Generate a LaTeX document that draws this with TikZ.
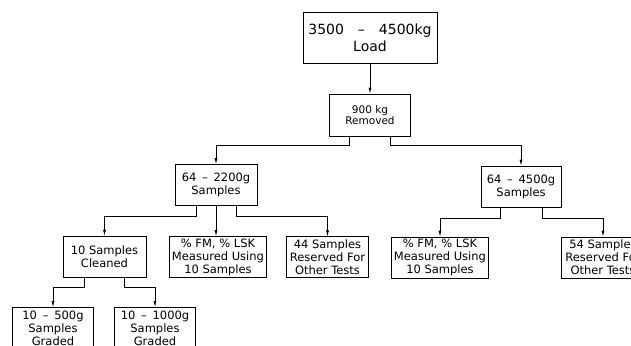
\documentclass[tikz,border=0pt]{standalone}
\usepackage{fontspec}
\setmainfont{DejaVu Sans}
\usetikzlibrary{arrows.meta}
\tikzset{
  box/.style={draw, line width=0.7pt, align=center, inner sep=0pt, minimum height=41pt, font=\fontsize{11.5}{13}\selectfont},
  arr/.style={-{Latex[length=6pt,width=3pt]}, line width=0.7pt}
}
\begin{document}
\begin{tikzpicture}[x=1pt,y=-1pt]
\useasboundingbox (0,0) rectangle (631,345);
\node[box, minimum width=134pt, minimum height=51pt, font=\fontsize{14}{17}\selectfont] (load) at (370,38) {3500\quad--\quad4500kg\\Load};
\node[box, minimum width=81pt, minimum height=42pt, font=\fontsize{10.5}{11.5}\selectfont] (removed) at (370,115) {900 kg\\Removed};
\node[box, minimum width=82pt] (samplesA) at (216,185) {64\enspace--\enspace2200g\\Samples};
\node[box, minimum width=80pt] (samplesB) at (521,186.5) {64\enspace--\enspace4500g\\Samples};
\node[box, minimum width=83pt] (cleaned) at (104.5,256.7) {10 Samples\\Cleaned};
\node[box, minimum width=97pt] (measA) at (218,257) {\% FM, \% LSK\\Measured Using\\10 Samples};
\node[box, minimum width=82pt] (reservA) at (327.5,257.3) {44 Samples\\Reserved For\\Other Tests};
\node[box, minimum width=97pt] (measB) at (440,257.5) {\% FM, \% LSK\\Measured Using\\10 Samples};
\node[box, minimum width=83pt] (reservB) at (603,257.5) {54 Samples\\Reserved For\\Other Tests};
\node[box, minimum width=81pt] (gradeA) at (53,328) {10\enspace--\enspace500g\\Samples\\Graded};
\node[box, minimum width=81pt] (gradeB) at (155,328) {10\enspace--\enspace1000g\\Samples\\Graded};
\draw[arr] (load.south) -- (removed.north);
\draw[arr] ([xshift=-20.5pt]removed.south) -- ++(0,9) -| (samplesA.north);
\draw[arr] ([xshift=20pt]removed.south) -- ++(0,9) -| (samplesB.north);
\draw[arr] ([xshift=-20pt]samplesA.south) -- ++(0,10) -| (cleaned.north);
\draw[arr] (samplesA.south) -- (samplesA.south |- measA.north);
\draw[arr] ([xshift=20.5pt]samplesA.south) -- ++(0,10) -| (reservA.north);
\draw[arr] ([xshift=-21pt]samplesB.south) -- ++(0,10.5) -| (measB.north);
\draw[arr] ([xshift=21pt]samplesB.south) -- ++(0,10.5) -| (reservB.north);
\draw[arr] ([xshift=-20.5pt]cleaned.south) -- ++(0,10) -| (gradeA.north);
\draw[arr] ([xshift=20pt]cleaned.south) -- ++(0,10) -| (gradeB.north);
\end{tikzpicture}
\end{document}
